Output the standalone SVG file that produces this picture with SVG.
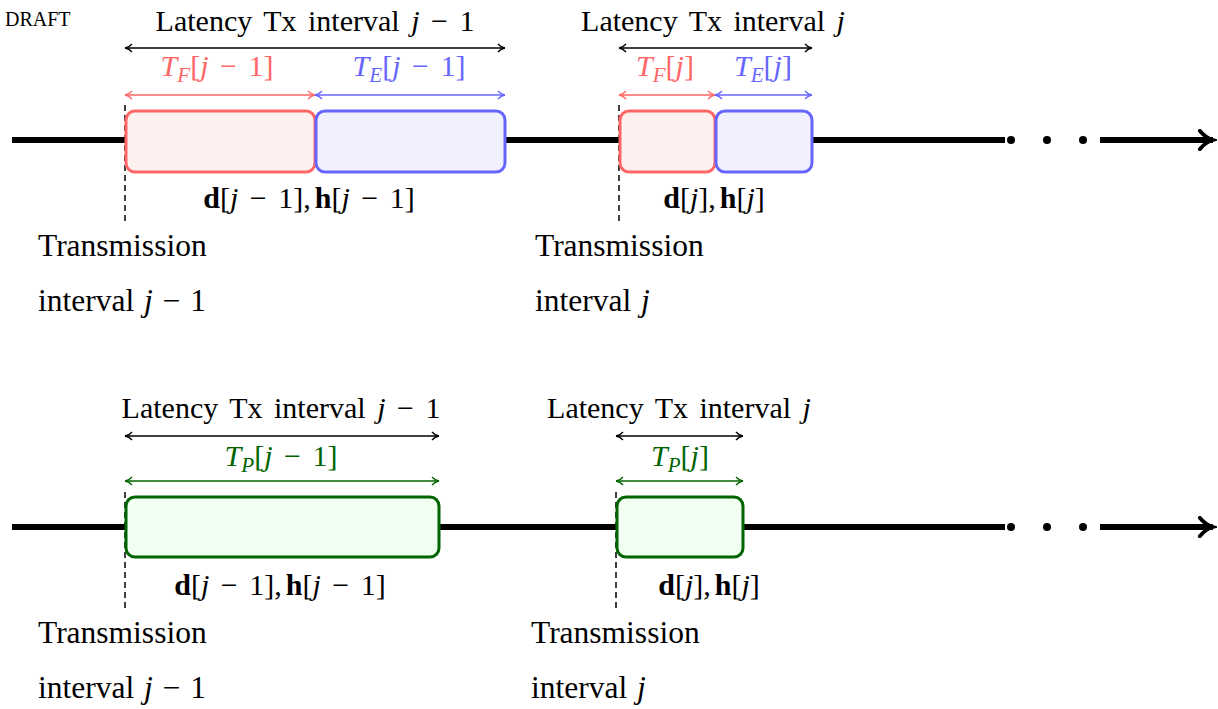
<svg xmlns="http://www.w3.org/2000/svg" width="1218" height="709" viewBox="0 0 1218 709">
<style>
text{font-family:"Liberation Serif","Times New Roman",serif;font-size:30px;fill:#000;word-spacing:4px}
.t{font-size:31.5px;word-spacing:2px}
.i{font-style:italic}
.b{font-weight:bold}
.s{font-size:21px;font-style:italic}
.r{fill:#ff6666}
.bl{fill:#6666ff}
.g{fill:#006400}
.axis{stroke:#000;stroke-width:6;fill:none}
.dash{stroke:#000;stroke-width:1.5;stroke-dasharray:6,4;fill:none}
.dim{stroke-width:1.5;fill:none}
.bx{stroke-width:3}
</style>
<defs>
<marker id="ak" viewBox="0 0 10 10" refX="9" refY="5" markerWidth="10" markerHeight="10" markerUnits="userSpaceOnUse" orient="auto-start-reverse"><path d="M2,1 Q5,4.5 9,5 Q5,5.5 2,9" fill="none" stroke="#000" stroke-width="1.3"/></marker>
<marker id="ar" viewBox="0 0 10 10" refX="9" refY="5" markerWidth="10" markerHeight="10" markerUnits="userSpaceOnUse" orient="auto-start-reverse"><path d="M2,1 Q5,4.5 9,5 Q5,5.5 2,9" fill="none" stroke="#ff6666" stroke-width="1.3"/></marker>
<marker id="ab" viewBox="0 0 10 10" refX="9" refY="5" markerWidth="10" markerHeight="10" markerUnits="userSpaceOnUse" orient="auto-start-reverse"><path d="M2,1 Q5,4.5 9,5 Q5,5.5 2,9" fill="none" stroke="#6666ff" stroke-width="1.3"/></marker>
<marker id="ag" viewBox="0 0 10 10" refX="9" refY="5" markerWidth="10" markerHeight="10" markerUnits="userSpaceOnUse" orient="auto-start-reverse"><path d="M2,1 Q5,4.5 9,5 Q5,5.5 2,9" fill="none" stroke="#006400" stroke-width="1.3"/></marker>
<marker id="abig" viewBox="0 0 10 10" refX="8" refY="5" markerWidth="22" markerHeight="22" markerUnits="userSpaceOnUse" orient="auto"><path d="M2,0.8 Q4.5,4 8,5 Q4.5,6 2,9.2" fill="none" stroke="#000" stroke-width="1.7" stroke-linecap="round"/></marker>
</defs>

<text x="5" y="26" style="font-size:20px;word-spacing:0">DRAFT</text>

<g id="connectors">
<line class="axis" x1="12" y1="140" x2="1005" y2="140"/>
<line class="axis" x1="1100" y1="140" x2="1213" y2="140" marker-end="url(#abig)"/>
<line class="axis" x1="12" y1="527" x2="1005" y2="527"/>
<line class="axis" x1="1100" y1="527" x2="1213" y2="527" marker-end="url(#abig)"/>
<line class="dash" x1="125" y1="105" x2="125" y2="222"/>
<line class="dash" x1="619" y1="105" x2="619" y2="222"/>
<line class="dash" x1="125" y1="492" x2="125" y2="609"/>
<line class="dash" x1="616" y1="492" x2="616" y2="609"/>
<line class="dim" stroke="#000" x1="125" y1="48" x2="505" y2="48" marker-start="url(#ak)" marker-end="url(#ak)"/>
<line class="dim" stroke="#ff6666" x1="125" y1="95" x2="315" y2="95" marker-start="url(#ar)" marker-end="url(#ar)"/>
<line class="dim" stroke="#6666ff" x1="315" y1="95" x2="505" y2="95" marker-start="url(#ab)" marker-end="url(#ab)"/>
<line class="dim" stroke="#000" x1="619" y1="48" x2="812" y2="48" marker-start="url(#ak)" marker-end="url(#ak)"/>
<line class="dim" stroke="#ff6666" x1="619" y1="95" x2="715" y2="95" marker-start="url(#ar)" marker-end="url(#ar)"/>
<line class="dim" stroke="#6666ff" x1="715" y1="95" x2="812" y2="95" marker-start="url(#ab)" marker-end="url(#ab)"/>
<line class="dim" stroke="#000" x1="125" y1="436" x2="439" y2="436" marker-start="url(#ak)" marker-end="url(#ak)"/>
<line class="dim" stroke="#006400" x1="125" y1="481" x2="439" y2="481" marker-start="url(#ag)" marker-end="url(#ag)"/>
<line class="dim" stroke="#000" x1="616" y1="436" x2="743" y2="436" marker-start="url(#ak)" marker-end="url(#ak)"/>
<line class="dim" stroke="#006400" x1="616" y1="481" x2="743" y2="481" marker-start="url(#ag)" marker-end="url(#ag)"/>
</g>

<g id="dots">
<circle cx="1011" cy="140" r="4"/>
<circle cx="1047" cy="140" r="4"/>
<circle cx="1083" cy="140" r="4"/>
<circle cx="1011" cy="527" r="4"/>
<circle cx="1047" cy="527" r="4"/>
<circle cx="1083" cy="527" r="4"/>
</g>

<g id="top-f1"><rect class="bx" x="126" y="111" width="189" height="61" rx="9" fill="#fff0f0" stroke="#ff6666"/></g>
<g id="top-e1"><rect class="bx" x="316" y="111" width="189" height="61" rx="9" fill="#f0f0ff" stroke="#6666ff"/></g>
<g id="top-f2"><rect class="bx" x="620" y="111" width="95" height="61" rx="9" fill="#fff0f0" stroke="#ff6666"/></g>
<g id="top-e2"><rect class="bx" x="716" y="111" width="96" height="61" rx="9" fill="#f0f0ff" stroke="#6666ff"/></g>
<g id="bot-p1"><rect class="bx" x="126" y="497" width="313" height="60" rx="9" fill="#f0fff0" stroke="#006400"/></g>
<g id="bot-p2"><rect class="bx" x="617" y="497" width="126" height="60" rx="9" fill="#f0fff0" stroke="#006400"/></g>

<g id="labels">
<text x="315" y="31" text-anchor="middle">Latency Tx interval <tspan class="i">j</tspan> − 1</text>
<text x="713" y="31" text-anchor="middle">Latency Tx interval <tspan class="i">j</tspan></text>
<text x="217" y="76" text-anchor="middle" class="r"><tspan class="i">T</tspan><tspan class="s" dy="6">F</tspan><tspan dy="-6">[</tspan><tspan class="i">j</tspan> − 1]</text>
<text x="409" y="76" text-anchor="middle" class="bl"><tspan class="i">T</tspan><tspan class="s" dy="6">E</tspan><tspan dy="-6">[</tspan><tspan class="i">j</tspan> − 1]</text>
<text x="665" y="76" text-anchor="middle" class="r"><tspan class="i">T</tspan><tspan class="s" dy="6">F</tspan><tspan dy="-6">[</tspan><tspan class="i">j</tspan>]</text>
<text x="763" y="76" text-anchor="middle" class="bl"><tspan class="i">T</tspan><tspan class="s" dy="6">E</tspan><tspan dy="-6">[</tspan><tspan class="i">j</tspan>]</text>
<text x="309" y="208" text-anchor="middle"><tspan class="b">d</tspan>[<tspan class="i">j</tspan> − 1],<tspan class="b" dx="4">h</tspan>[<tspan class="i">j</tspan> − 1]</text>
<text x="714" y="208" text-anchor="middle"><tspan class="b">d</tspan>[<tspan class="i">j</tspan>],<tspan class="b" dx="4">h</tspan>[<tspan class="i">j</tspan>]</text>
<text class="t" x="38" y="256">Transmission</text>
<text class="t" x="38" y="311">interval <tspan class="i">j</tspan> − 1</text>
<text class="t" x="535" y="256">Transmission</text>
<text class="t" x="535" y="311">interval <tspan class="i">j</tspan></text>

<text x="281" y="418" text-anchor="middle">Latency Tx interval <tspan class="i">j</tspan> − 1</text>
<text x="679" y="418" text-anchor="middle">Latency Tx interval <tspan class="i">j</tspan></text>
<text x="281" y="466" text-anchor="middle" class="g"><tspan class="i">T</tspan><tspan class="s" dy="6">P</tspan><tspan dy="-6">[</tspan><tspan class="i">j</tspan> − 1]</text>
<text x="680" y="466" text-anchor="middle" class="g"><tspan class="i">T</tspan><tspan class="s" dy="6">P</tspan><tspan dy="-6">[</tspan><tspan class="i">j</tspan>]</text>
<text x="280" y="595" text-anchor="middle"><tspan class="b">d</tspan>[<tspan class="i">j</tspan> − 1],<tspan class="b" dx="4">h</tspan>[<tspan class="i">j</tspan> − 1]</text>
<text x="709" y="595" text-anchor="middle"><tspan class="b">d</tspan>[<tspan class="i">j</tspan>],<tspan class="b" dx="4">h</tspan>[<tspan class="i">j</tspan>]</text>
<text class="t" x="38" y="643">Transmission</text>
<text class="t" x="38" y="698">interval <tspan class="i">j</tspan> − 1</text>
<text class="t" x="531" y="643">Transmission</text>
<text class="t" x="531" y="698">interval <tspan class="i">j</tspan></text>
</g>
</svg>
